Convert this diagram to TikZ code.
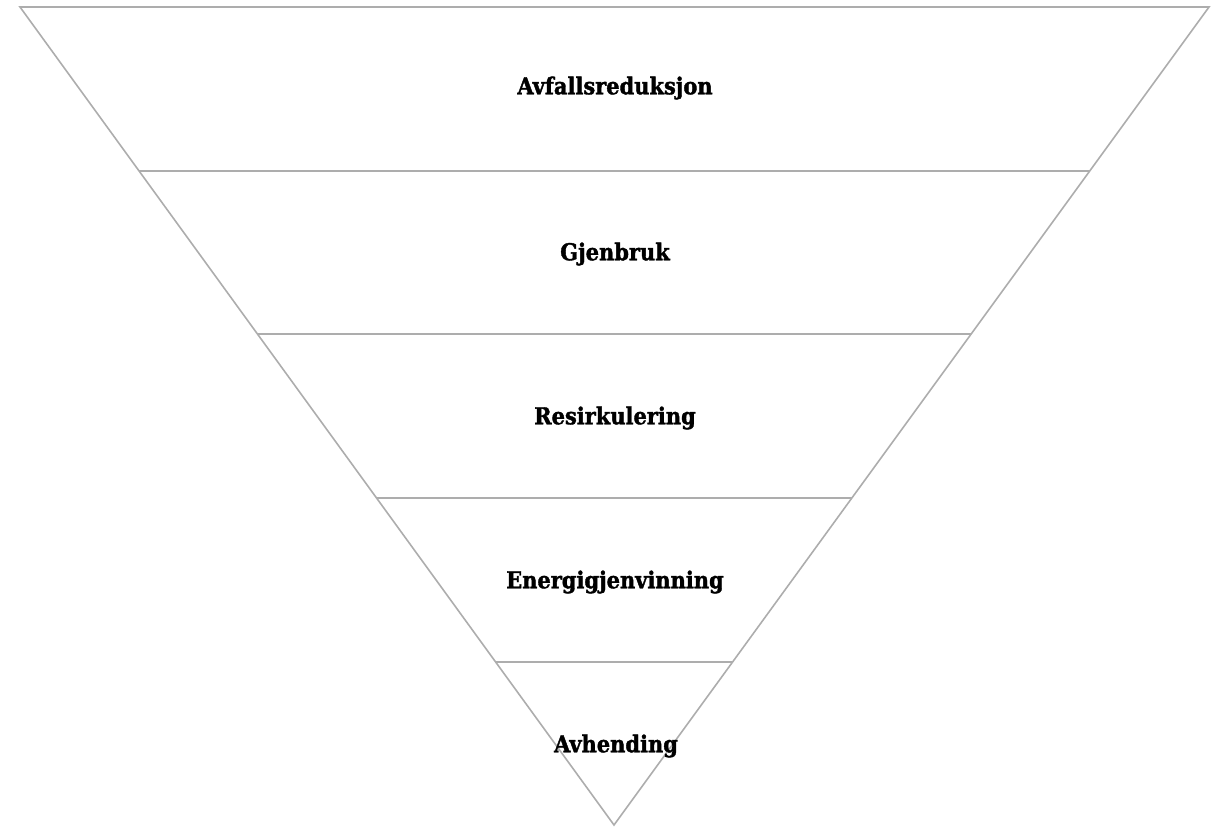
\documentclass[tikz,border=0pt]{standalone}
\usepackage{fontspec}
\setmainfont{DejaVu Serif Condensed}[BoldFeatures={FakeBold=1.6}]
\usetikzlibrary{calc}
\tikzset{
  edge/.style={draw=black!32, line width=1.6pt, line join=miter},
  lab/.style={font=\bfseries\fontsize{23.3}{26}\selectfont, inner sep=0pt, anchor=center}
}
\begin{document}
\begin{tikzpicture}[x=1pt,y=-1pt]
\useasboundingbox (0,0) rectangle (1217,827);
\coordinate (TL) at (20,7);
\coordinate (TR) at (1209,7);
\coordinate (A) at (614,825);
\draw[edge] (TL) -- (TR) -- (A) -- cycle;
\foreach \i/\f in {1/0.2005,2/0.3998,3/0.6002,4/0.8007}{
  \coordinate (L\i) at ($(TL)!\f!(A)$);
  \coordinate (R\i) at ($(TR)!\f!(A)$);
  \draw[edge] (L\i) -- (R\i);
}
\node[lab] (t1) at (615,88) {Avfallsreduksjon};
\node[lab] (t2) at (615,254) {Gjenbruk};
\node[lab] (t3) at (615,418) {Resirkulering};
\node[lab] (t4) at (615,582) {Energigjenvinning};
\node[lab] (t5) at (616,746) {Avhending};
\end{tikzpicture}
\end{document}
